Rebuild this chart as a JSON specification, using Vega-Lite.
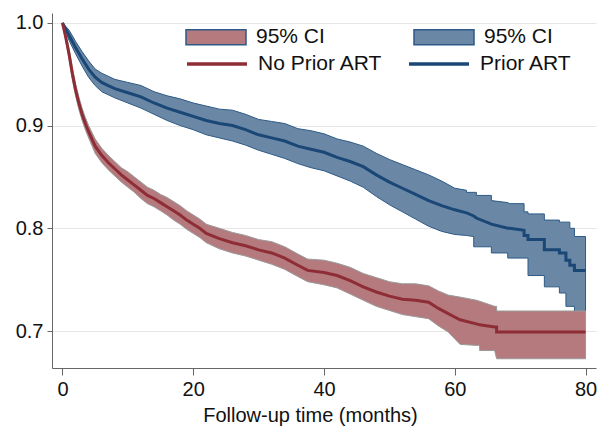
{
  "$schema": "https://vega.github.io/schema/vega-lite/v6.json",
  "width": 544,
  "height": 355,
  "autosize": "none",
  "padding": {"left": 52, "top": 13, "right": 4, "bottom": 59},
  "background": "white",
  "config": {
    "view": {"stroke": null},
    "font": "Liberation Sans",
    "axis": {"labelFont": "Liberation Sans", "titleFont": "Liberation Sans", "labelColor": "#111", "titleColor": "#111"},
    "legend": {"labelFont": "Liberation Sans"}
  },
  "datasets": {
    "km": [
      {"g":"Prior ART","band":"CI Prior","t":0,"s":1,"lo":1,"hi":1},
      {"g":"Prior ART","band":"CI Prior","t":1,"s":0.988,"lo":0.983,"hi":0.993},
      {"g":"Prior ART","band":"CI Prior","t":2,"s":0.976,"lo":0.970,"hi":0.982},
      {"g":"Prior ART","band":"CI Prior","t":3,"s":0.965,"lo":0.958,"hi":0.972},
      {"g":"Prior ART","band":"CI Prior","t":4,"s":0.955,"lo":0.947,"hi":0.963},
      {"g":"Prior ART","band":"CI Prior","t":5,"s":0.947,"lo":0.939,"hi":0.955},
      {"g":"Prior ART","band":"CI Prior","t":6,"s":0.942,"lo":0.933,"hi":0.951},
      {"g":"Prior ART","band":"CI Prior","t":7,"s":0.939,"lo":0.930,"hi":0.948},
      {"g":"Prior ART","band":"CI Prior","t":8,"s":0.936,"lo":0.927,"hi":0.945},
      {"g":"Prior ART","band":"CI Prior","t":10,"s":0.932,"lo":0.922,"hi":0.942},
      {"g":"Prior ART","band":"CI Prior","t":12,"s":0.928,"lo":0.917,"hi":0.939},
      {"g":"Prior ART","band":"CI Prior","t":14,"s":0.922,"lo":0.911,"hi":0.933},
      {"g":"Prior ART","band":"CI Prior","t":16,"s":0.917,"lo":0.905,"hi":0.929},
      {"g":"Prior ART","band":"CI Prior","t":18,"s":0.913,"lo":0.900,"hi":0.926},
      {"g":"Prior ART","band":"CI Prior","t":20,"s":0.909,"lo":0.896,"hi":0.922},
      {"g":"Prior ART","band":"CI Prior","t":22,"s":0.905,"lo":0.891,"hi":0.919},
      {"g":"Prior ART","band":"CI Prior","t":24,"s":0.902,"lo":0.888,"hi":0.916},
      {"g":"Prior ART","band":"CI Prior","t":26,"s":0.900,"lo":0.885,"hi":0.915},
      {"g":"Prior ART","band":"CI Prior","t":28,"s":0.896,"lo":0.881,"hi":0.911},
      {"g":"Prior ART","band":"CI Prior","t":30,"s":0.891,"lo":0.876,"hi":0.906},
      {"g":"Prior ART","band":"CI Prior","t":32,"s":0.888,"lo":0.872,"hi":0.904},
      {"g":"Prior ART","band":"CI Prior","t":34,"s":0.885,"lo":0.868,"hi":0.902},
      {"g":"Prior ART","band":"CI Prior","t":36,"s":0.880,"lo":0.863,"hi":0.897},
      {"g":"Prior ART","band":"CI Prior","t":38,"s":0.877,"lo":0.859,"hi":0.895},
      {"g":"Prior ART","band":"CI Prior","t":40,"s":0.874,"lo":0.856,"hi":0.892},
      {"g":"Prior ART","band":"CI Prior","t":42,"s":0.869,"lo":0.851,"hi":0.887},
      {"g":"Prior ART","band":"CI Prior","t":44,"s":0.865,"lo":0.846,"hi":0.884},
      {"g":"Prior ART","band":"CI Prior","t":46,"s":0.860,"lo":0.840,"hi":0.880},
      {"g":"Prior ART","band":"CI Prior","t":48,"s":0.852,"lo":0.831,"hi":0.873},
      {"g":"Prior ART","band":"CI Prior","t":50,"s":0.845,"lo":0.823,"hi":0.867},
      {"g":"Prior ART","band":"CI Prior","t":52,"s":0.839,"lo":0.816,"hi":0.862},
      {"g":"Prior ART","band":"CI Prior","t":54,"s":0.833,"lo":0.809,"hi":0.857},
      {"g":"Prior ART","band":"CI Prior","t":56,"s":0.827,"lo":0.802,"hi":0.852},
      {"g":"Prior ART","band":"CI Prior","t":58,"s":0.822,"lo":0.797,"hi":0.846},
      {"g":"Prior ART","band":"CI Prior","t":60,"s":0.818,"lo":0.794,"hi":0.839},
      {"g":"Prior ART","band":"CI Prior","t":61.8,"s":0.815,"lo":0.793,"hi":0.837},
      {"g":"Prior ART","band":"CI Prior","t":61.8,"s":0.815,"lo":0.793,"hi":0.835},
      {"g":"Prior ART","band":"CI Prior","t":62.9,"s":0.812,"lo":0.792,"hi":0.835},
      {"g":"Prior ART","band":"CI Prior","t":62.9,"s":0.812,"lo":0.782,"hi":0.835},
      {"g":"Prior ART","band":"CI Prior","t":63.3,"s":0.810,"lo":0.782,"hi":0.835},
      {"g":"Prior ART","band":"CI Prior","t":63.3,"s":0.810,"lo":0.782,"hi":0.832},
      {"g":"Prior ART","band":"CI Prior","t":65.6,"s":0.804,"lo":0.782,"hi":0.832},
      {"g":"Prior ART","band":"CI Prior","t":65.6,"s":0.804,"lo":0.776,"hi":0.827},
      {"g":"Prior ART","band":"CI Prior","t":68.1,"s":0.800,"lo":0.776,"hi":0.825},
      {"g":"Prior ART","band":"CI Prior","t":68.1,"s":0.800,"lo":0.771,"hi":0.825},
      {"g":"Prior ART","band":"CI Prior","t":68.4,"s":0.800,"lo":0.771,"hi":0.824},
      {"g":"Prior ART","band":"CI Prior","t":70.6,"s":0.798,"lo":0.771,"hi":0.824},
      {"g":"Prior ART","band":"CI Prior","t":70.6,"s":0.793,"lo":0.771,"hi":0.816},
      {"g":"Prior ART","band":"CI Prior","t":71.2,"s":0.793,"lo":0.771,"hi":0.816},
      {"g":"Prior ART","band":"CI Prior","t":71.2,"s":0.789,"lo":0.754,"hi":0.814},
      {"g":"Prior ART","band":"CI Prior","t":73.7,"s":0.789,"lo":0.754,"hi":0.814},
      {"g":"Prior ART","band":"CI Prior","t":73.7,"s":0.779,"lo":0.743,"hi":0.808},
      {"g":"Prior ART","band":"CI Prior","t":76.0,"s":0.779,"lo":0.743,"hi":0.808},
      {"g":"Prior ART","band":"CI Prior","t":76.0,"s":0.776,"lo":0.737,"hi":0.806},
      {"g":"Prior ART","band":"CI Prior","t":77.0,"s":0.776,"lo":0.737,"hi":0.806},
      {"g":"Prior ART","band":"CI Prior","t":77.0,"s":0.769,"lo":0.724,"hi":0.806},
      {"g":"Prior ART","band":"CI Prior","t":77.6,"s":0.769,"lo":0.724,"hi":0.806},
      {"g":"Prior ART","band":"CI Prior","t":77.6,"s":0.764,"lo":0.724,"hi":0.800},
      {"g":"Prior ART","band":"CI Prior","t":78.3,"s":0.764,"lo":0.724,"hi":0.800},
      {"g":"Prior ART","band":"CI Prior","t":78.3,"s":0.759,"lo":0.719,"hi":0.792},
      {"g":"Prior ART","band":"CI Prior","t":80,"s":0.759,"lo":0.719,"hi":0.792},
      {"g":"No Prior ART","band":"CI No Prior","t":0,"s":1,"lo":1,"hi":1},
      {"g":"No Prior ART","band":"CI No Prior","t":0.5,"s":0.986,"lo":0.982,"hi":0.990},
      {"g":"No Prior ART","band":"CI No Prior","t":1,"s":0.970,"lo":0.965,"hi":0.975},
      {"g":"No Prior ART","band":"CI No Prior","t":1.5,"s":0.951,"lo":0.945,"hi":0.957},
      {"g":"No Prior ART","band":"CI No Prior","t":2,"s":0.935,"lo":0.929,"hi":0.941},
      {"g":"No Prior ART","band":"CI No Prior","t":2.5,"s":0.922,"lo":0.916,"hi":0.928},
      {"g":"No Prior ART","band":"CI No Prior","t":3,"s":0.911,"lo":0.905,"hi":0.917},
      {"g":"No Prior ART","band":"CI No Prior","t":3.5,"s":0.902,"lo":0.896,"hi":0.908},
      {"g":"No Prior ART","band":"CI No Prior","t":4,"s":0.894,"lo":0.888,"hi":0.900},
      {"g":"No Prior ART","band":"CI No Prior","t":5,"s":0.880,"lo":0.873,"hi":0.887},
      {"g":"No Prior ART","band":"CI No Prior","t":6,"s":0.871,"lo":0.864,"hi":0.878},
      {"g":"No Prior ART","band":"CI No Prior","t":7,"s":0.864,"lo":0.857,"hi":0.871},
      {"g":"No Prior ART","band":"CI No Prior","t":8,"s":0.858,"lo":0.851,"hi":0.865},
      {"g":"No Prior ART","band":"CI No Prior","t":9,"s":0.852,"lo":0.845,"hi":0.859},
      {"g":"No Prior ART","band":"CI No Prior","t":10,"s":0.847,"lo":0.840,"hi":0.855},
      {"g":"No Prior ART","band":"CI No Prior","t":11,"s":0.842,"lo":0.835,"hi":0.850},
      {"g":"No Prior ART","band":"CI No Prior","t":12,"s":0.837,"lo":0.829,"hi":0.845},
      {"g":"No Prior ART","band":"CI No Prior","t":13,"s":0.832,"lo":0.824,"hi":0.840},
      {"g":"No Prior ART","band":"CI No Prior","t":14,"s":0.829,"lo":0.821,"hi":0.837},
      {"g":"No Prior ART","band":"CI No Prior","t":15,"s":0.825,"lo":0.817,"hi":0.833},
      {"g":"No Prior ART","band":"CI No Prior","t":16,"s":0.821,"lo":0.813,"hi":0.830},
      {"g":"No Prior ART","band":"CI No Prior","t":17,"s":0.817,"lo":0.808,"hi":0.826},
      {"g":"No Prior ART","band":"CI No Prior","t":18,"s":0.813,"lo":0.804,"hi":0.822},
      {"g":"No Prior ART","band":"CI No Prior","t":19,"s":0.808,"lo":0.799,"hi":0.817},
      {"g":"No Prior ART","band":"CI No Prior","t":20,"s":0.804,"lo":0.795,"hi":0.813},
      {"g":"No Prior ART","band":"CI No Prior","t":21,"s":0.800,"lo":0.791,"hi":0.809},
      {"g":"No Prior ART","band":"CI No Prior","t":22,"s":0.795,"lo":0.786,"hi":0.804},
      {"g":"No Prior ART","band":"CI No Prior","t":24,"s":0.790,"lo":0.780,"hi":0.800},
      {"g":"No Prior ART","band":"CI No Prior","t":26,"s":0.786,"lo":0.776,"hi":0.796},
      {"g":"No Prior ART","band":"CI No Prior","t":28,"s":0.783,"lo":0.773,"hi":0.793},
      {"g":"No Prior ART","band":"CI No Prior","t":30,"s":0.779,"lo":0.769,"hi":0.789},
      {"g":"No Prior ART","band":"CI No Prior","t":32,"s":0.776,"lo":0.765,"hi":0.787},
      {"g":"No Prior ART","band":"CI No Prior","t":34,"s":0.771,"lo":0.760,"hi":0.782},
      {"g":"No Prior ART","band":"CI No Prior","t":36,"s":0.764,"lo":0.753,"hi":0.775},
      {"g":"No Prior ART","band":"CI No Prior","t":37.5,"s":0.759,"lo":0.748,"hi":0.770},
      {"g":"No Prior ART","band":"CI No Prior","t":40,"s":0.757,"lo":0.745,"hi":0.769},
      {"g":"No Prior ART","band":"CI No Prior","t":42,"s":0.754,"lo":0.742,"hi":0.766},
      {"g":"No Prior ART","band":"CI No Prior","t":44,"s":0.749,"lo":0.736,"hi":0.762},
      {"g":"No Prior ART","band":"CI No Prior","t":46,"s":0.743,"lo":0.730,"hi":0.756},
      {"g":"No Prior ART","band":"CI No Prior","t":48,"s":0.738,"lo":0.724,"hi":0.752},
      {"g":"No Prior ART","band":"CI No Prior","t":50,"s":0.734,"lo":0.720,"hi":0.748},
      {"g":"No Prior ART","band":"CI No Prior","t":52,"s":0.731,"lo":0.716,"hi":0.746},
      {"g":"No Prior ART","band":"CI No Prior","t":54,"s":0.730,"lo":0.714,"hi":0.746},
      {"g":"No Prior ART","band":"CI No Prior","t":56,"s":0.728,"lo":0.712,"hi":0.744},
      {"g":"No Prior ART","band":"CI No Prior","t":57.5,"s":0.722,"lo":0.705,"hi":0.739},
      {"g":"No Prior ART","band":"CI No Prior","t":59,"s":0.717,"lo":0.699,"hi":0.735},
      {"g":"No Prior ART","band":"CI No Prior","t":60.8,"s":0.711,"lo":0.687,"hi":0.733},
      {"g":"No Prior ART","band":"CI No Prior","t":63.3,"s":0.707,"lo":0.686,"hi":0.730},
      {"g":"No Prior ART","band":"CI No Prior","t":63.8,"s":0.706,"lo":0.686,"hi":0.729},
      {"g":"No Prior ART","band":"CI No Prior","t":63.8,"s":0.706,"lo":0.681,"hi":0.729},
      {"g":"No Prior ART","band":"CI No Prior","t":66.1,"s":0.704,"lo":0.681,"hi":0.724},
      {"g":"No Prior ART","band":"CI No Prior","t":66.4,"s":0.704,"lo":0.673,"hi":0.724},
      {"g":"No Prior ART","band":"CI No Prior","t":66.4,"s":0.699,"lo":0.673,"hi":0.7195},
      {"g":"No Prior ART","band":"CI No Prior","t":80,"s":0.699,"lo":0.673,"hi":0.7195}
    ]
  },
  "data": {"name": "km"},
  "encoding": {
    "x": {
      "field": "t", "type": "quantitative",
      "scale": {"domain": [-1.6, 81.6], "nice": false, "zero": false},
      "axis": {
        "title": "Follow-up time (months)", "values": [0, 20, 40, 60, 80],
        "grid": false, "domainColor": "#666", "tickColor": "#666", "tickSize": 7,
        "labelFontSize": 20, "labelPadding": 4, "titleFontSize": 20, "titleFontWeight": "normal",
        "titlePadding": 6, "titleX": 258, "titleAnchor": "middle"
      }
    }
  },
  "layer": [
    {
      "transform": [{"filter": "datum.g === 'Prior ART'"}],
      "mark": {"type": "area", "interpolate": "linear", "stroke": "#2d5a86", "strokeWidth": 1},
      "encoding": {
        "y": {
          "field": "lo", "type": "quantitative",
          "scale": {"domain": [0.664, 1.0096], "nice": false, "zero": false},
          "axis": {
            "title": null, "values": [0.7, 0.8, 0.9, 1.0], "format": ".1f",
            "grid": true, "gridColor": "#e6e6e6", "domainColor": "#666", "tickColor": "#666",
            "tickSize": 5, "labelFontSize": 20, "labelPadding": 4
          }
        },
        "y2": {"field": "hi"},
        "fill": {
          "field": "band", "type": "nominal",
          "scale": {"domain": ["CI No Prior", "CI Prior"], "range": ["#b57a7e", "#6a88a6"]},
          "legend": {
            "orient": "none", "legendX": 133, "legendY": -7, "direction": "horizontal", "columns": 2,
            "title": null, "labelExpr": "'95% CI'", "labelFontSize": 21, "labelColor": "#111",
            "symbolType": "M-1,-0.25H1V0.25H-1Z", "symbolSize": 3600, "symbolOpacity": 1,
            "symbolStrokeWidth": 1.5, "labelOffset": 9, "columnPadding": 86, "padding": 0,
            "encode": {"symbols": {"update": {"stroke": {"signal": "datum.value === 'CI Prior' ? '#2d5a86' : '#a2434b'"}}}}
          }
        }
      }
    },
    {
      "transform": [{"filter": "datum.g === 'No Prior ART'"}],
      "mark": {"type": "area", "interpolate": "linear", "stroke": "#9a9a9a", "strokeWidth": 1},
      "encoding": {
        "y": {"field": "lo", "type": "quantitative"},
        "y2": {"field": "hi"},
        "fill": {"field": "band", "type": "nominal"}
      }
    },
    {
      "mark": {"type": "line", "interpolate": "linear", "strokeWidth": 3},
      "encoding": {
        "y": {"field": "s", "type": "quantitative"},
        "stroke": {
          "field": "g", "type": "nominal",
          "scale": {"domain": ["No Prior ART", "Prior ART"], "range": ["#8f2d36", "#1a4775"]},
          "legend": {
            "orient": "none", "legendX": 133, "legendY": 19, "direction": "horizontal", "columns": 2,
            "title": null, "labelFontSize": 21, "labelColor": "#111",
            "symbolType": "stroke", "symbolSize": 3600, "symbolStrokeWidth": 3.5,
            "labelOffset": 9, "columnPadding": 19, "padding": 0
          }
        }
      }
    }
  ]
}
